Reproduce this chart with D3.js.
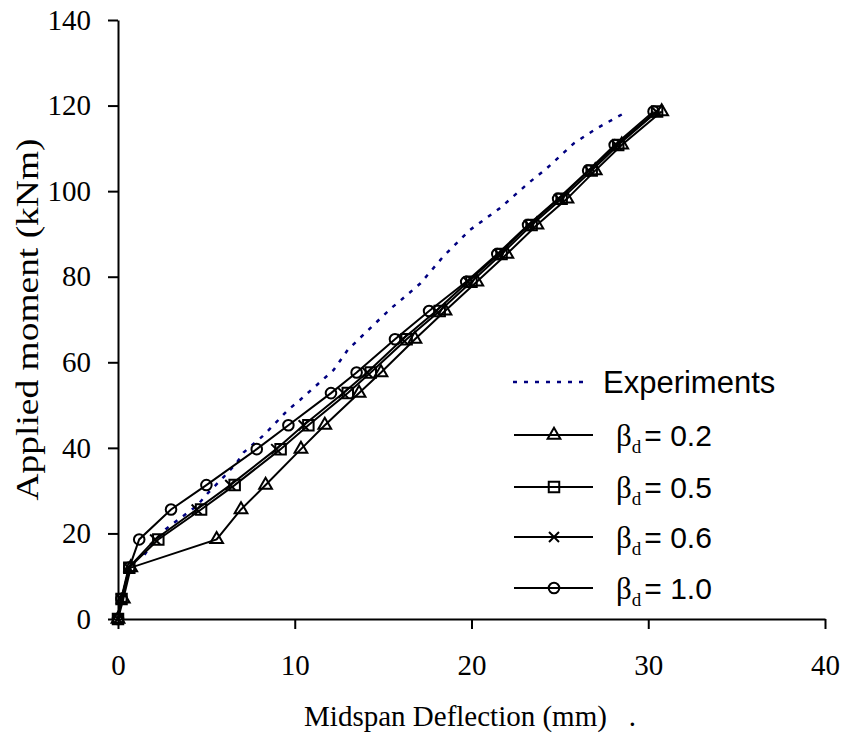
<!DOCTYPE html>
<html>
<head>
<meta charset="utf-8">
<script src="https://cdn.jsdelivr.net/npm/d3@7"></script>
<style>
  body { margin: 0; background: #ffffff; }
  svg { display: block; }
</style>
</head>
<body>
<svg id="chart" width="843" height="735"></svg>
<script>
// Axis ticks
const xTicks = [0, 10, 20, 30, 40];
const yTicks = [0, 20, 40, 60, 80, 100, 120, 140];

// Load steps (kNm) shared by the numerical series
const moment = [0, 4.7, 12.0, 18.6, 25.6, 31.3, 39.7, 45.3, 52.8, 57.6, 65.4, 72.0, 78.8, 85.3, 92.1, 98.2, 104.8, 110.8, 118.6];

// Midspan deflection (mm) for each damage parameter
const deflBeta02 = [0, 0.3, 0.72, 5.58, 6.96, 8.35, 10.35, 11.7, 13.64, 14.88, 16.8, 18.5, 20.3, 22.0, 23.7, 25.4, 27.0, 28.5, 30.76];
const deflBeta05 = [0, 0.2, 0.64, 2.28, 4.7, 6.6, 9.2, 10.77, 13.0, 14.3, 16.33, 18.2, 20.0, 21.7, 23.4, 25.1, 26.8, 28.3, 30.5];
const deflBeta06 = [0, 0.18, 0.6, 2.1, 4.45, 6.35, 8.95, 10.5, 12.75, 14.1, 16.1, 18.0, 19.8, 21.55, 23.25, 24.95, 26.65, 28.2, 30.45];
const deflBeta10 = [0, 0.2, 0.64, 1.2, 3.0, 5.0, 7.85, 9.64, 12.05, 13.5, 15.67, 17.6, 19.7, 21.46, 23.2, 24.9, 26.6, 28.1, 30.3];

// Test record
const expDefl   = [1.5, 1.8, 2.7, 3.4, 4.45, 5.1, 6.0, 6.7, 7.1, 8.2, 8.7, 9.6, 10.3, 12.2, 13.0, 14.45, 15.5, 16.0, 17.1, 18.4, 19.9, 21.6, 23.2, 24.25, 25.8, 27.1, 28.8];
const expMoment = [15.0, 16.9, 21.0, 23.2, 26.4, 29.5, 33.3, 36.4, 38.9, 42.8, 44.9, 48.8, 51.2, 58.2, 62.9, 68.7, 72.8, 74.5, 78.4, 84.7, 90.9, 96.0, 101.8, 105.3, 111.2, 114.7, 118.6];

const seriesLabels = ["0.2", "0.5", "0.6", "1.0"];
const seriesMarkers = ["triangle", "square", "cross", "circle"];

const svg = d3.select("#chart");
svg.append("rect").attr("width", 843).attr("height", 735).attr("fill", "#ffffff");

const x = d3.scaleLinear().domain([0, 40]).range([118, 825]);
const y = d3.scaleLinear().domain([0, 140]).range([619, 20]);

const serif = "'Liberation Serif', 'Times New Roman', serif";
const sans = "'Liberation Sans', Arial, sans-serif";

// Axes
const xAxis = svg.append("g").attr("transform", `translate(0,${y(0)})`)
  .call(d3.axisBottom(x).tickValues(xTicks).tickSize(10).tickSizeOuter(0).tickPadding(25));
const yAxis = svg.append("g").attr("transform", `translate(${x(0)},0)`)
  .call(d3.axisLeft(y).tickValues(yTicks).tickSize(10).tickSizeOuter(0).tickPadding(17));
[xAxis, yAxis].forEach(g => {
  g.selectAll("path.domain").attr("stroke", "#000").attr("stroke-width", 2);
  g.selectAll(".tick line").attr("stroke", "#000").attr("stroke-width", 2);
  g.selectAll(".tick text").attr("fill", "#000").style("font-family", serif).style("font-size", "29px");
});

// Axis titles
svg.append("text")
  .attr("x", 470).attr("y", 726)
  .attr("text-anchor", "middle")
  .style("font-family", serif).style("font-size", "29px")
  .style("white-space", "pre")
  .text("Midspan Deflection (mm)   .");
svg.append("text")
  .attr("transform", `translate(38,${(y(0) + y(140)) / 2}) rotate(-90)`)
  .attr("text-anchor", "middle")
  .attr("textLength", 362).attr("lengthAdjust", "spacingAndGlyphs")
  .style("font-family", serif).style("font-size", "31px")
  .text("Applied moment (kNm)");

// Marker drawing
function drawMarker(g, type, cx, cy) {
  if (type === "cross") {
    const r = 5;
    g.append("path")
      .attr("d", `M${cx - r},${cy - r}L${cx + r},${cy + r}M${cx - r},${cy + r}L${cx + r},${cy - r}`)
      .attr("stroke", "#000").attr("stroke-width", 2).attr("fill", "none");
    return;
  }
  const sym = type === "triangle" ? d3.symbolTriangle : type === "square" ? d3.symbolSquare : d3.symbolCircle;
  const size = type === "triangle" ? 70 : type === "square" ? 110 : 88;
  g.append("path")
    .attr("d", d3.symbol().type(sym).size(size)())
    .attr("transform", `translate(${cx},${cy})`)
    .attr("stroke", "#000").attr("stroke-width", 2).attr("fill", "none");
}

// Test curve (dotted)
const expData = expDefl.map((d, i) => [d, expMoment[i]]);
const line = d3.line().x(d => x(d[0])).y(d => y(d[1]));
svg.append("path")
  .attr("d", line(expData))
  .attr("fill", "none").attr("stroke", "#000080")
  .attr("stroke-width", 2.5).attr("stroke-dasharray", "4,7");

// Numerical curves
const deflSeries = [deflBeta02, deflBeta05, deflBeta06, deflBeta10];
deflSeries.forEach((defl, s) => {
  const data = defl.map((d, i) => [d, moment[i]]);
  const g = svg.append("g");
  g.append("path").attr("d", line(data))
    .attr("fill", "none").attr("stroke", "#000").attr("stroke-width", 2);
  data.forEach(p => drawMarker(g, seriesMarkers[s], x(p[0]), y(p[1])));
});

// Legend
const legend = svg.append("g");
legend.append("line").attr("x1", 513).attr("x2", 590).attr("y1", 382).attr("y2", 382)
  .attr("stroke", "#000080").attr("stroke-width", 2.5).attr("stroke-dasharray", "4,7");
legend.append("text").attr("x", 603).attr("y", 393)
  .style("font-family", sans).style("font-size", "31px").text("Experiments");

const rowY = [435, 487, 537, 588];
seriesLabels.forEach((lab, i) => {
  const yy = rowY[i];
  legend.append("line").attr("x1", 514).attr("x2", 593).attr("y1", yy).attr("y2", yy)
    .attr("stroke", "#000").attr("stroke-width", 2);
  drawMarker(legend, seriesMarkers[i], 554, yy);
  const t = legend.append("text").attr("x", 616).attr("y", yy + 11);
  t.append("tspan").style("font-family", serif).style("font-size", "31px").text("β");
  t.append("tspan").attr("dy", 7).style("font-family", serif).style("font-size", "19px").text("d");
  t.append("tspan").attr("dy", -7).attr("dx", 3).style("font-family", sans).style("font-size", "30px").text("= " + lab);
});
</script>
</body>
</html>
